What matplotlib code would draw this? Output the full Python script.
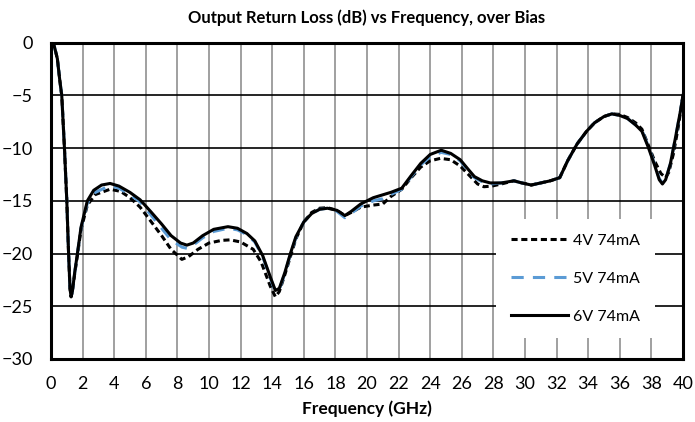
import matplotlib
matplotlib.use("Agg")
import matplotlib.pyplot as plt

plt.rcParams['font.family'] = ['Lato', 'DejaVu Sans']

# 6V 74mA (solid black)
freq_6v = [0.0, 0.2, 0.4, 0.55, 0.68, 0.85, 1.0, 1.1, 1.2, 1.27, 1.35, 1.5, 1.67, 1.9,
           2.3, 2.7, 3.2, 3.74, 4.3, 5.0, 5.64, 6.3, 7.0, 7.6, 8.2, 8.6, 9.0, 9.6,
           10.3, 11.2, 11.8, 12.4, 12.9, 13.4, 13.9, 14.2, 14.45, 14.8, 15.15, 15.5,
           16.0, 16.5, 17.0, 17.5, 18.1, 18.6, 19.0, 19.6, 20.4, 21.5, 22.2, 22.8,
           23.4, 24.0, 24.7, 25.3, 25.9, 26.4, 26.8, 27.3, 27.8, 28.5, 29.3, 29.8,
           30.4, 31.0, 31.6, 32.2, 32.7, 33.3, 33.9, 34.4, 35.0, 35.5, 36.0, 36.5,
           37.0, 37.4, 37.8, 38.2, 38.5, 38.7, 38.9, 39.2, 39.5, 39.85, 40.0]
rl_6v = [0.0, -0.3, -1.5, -3.5, -5.0, -10.0, -15.0, -19.5, -23.3, -24.1, -23.6, -21.8, -20.0, -17.5,
         -15.0, -14.0, -13.5, -13.35, -13.6, -14.2, -14.9, -16.0, -17.2, -18.3, -19.0, -19.2, -19.0, -18.3,
         -17.7, -17.45, -17.6, -18.1, -18.8, -20.2, -22.3, -23.5, -23.3, -21.8, -20.0, -18.4,
         -17.0, -16.2, -15.8, -15.7, -15.9, -16.4, -16.0, -15.3, -14.7, -14.2, -13.8, -12.6,
         -11.45, -10.6, -10.2, -10.5, -11.1, -12.0, -12.7, -13.1, -13.3, -13.3, -13.1, -13.3,
         -13.5, -13.3, -13.1, -12.8, -11.2, -9.6, -8.4, -7.6, -7.0, -6.75, -6.9, -7.2,
         -7.8, -8.4, -9.9, -11.6, -13.0, -13.4, -13.0, -11.5, -9.2, -6.4, -5.0]

# 5V 74mA (blue dashed)
freq_5v = [0.0, 0.2, 0.4, 0.55, 0.68, 0.85, 1.0, 1.1, 1.2, 1.27, 1.35, 1.5, 1.67, 1.9,
           2.3, 2.8, 3.74, 4.3, 5.0, 5.64, 6.3, 7.0, 7.6, 8.3, 8.6, 9.0, 9.6,
           10.3, 11.2, 11.8, 12.4, 12.9, 13.4, 13.9, 14.2, 14.45, 14.8, 15.15, 15.5,
           16.0, 16.5, 17.0, 17.5, 18.1, 18.6, 19.0, 19.6, 20.4, 21.0, 21.5, 22.2, 22.8,
           23.4, 24.0, 24.7, 25.3, 25.9, 26.4, 26.8, 27.3, 27.8, 28.5, 29.3, 29.8,
           30.4, 31.0, 31.6, 32.2, 32.7, 33.3, 33.9, 34.4, 35.0, 35.5, 36.0, 36.5,
           37.0, 37.4, 37.8, 38.2, 38.5, 38.7, 38.9, 39.2, 39.5, 39.85, 40.0]
rl_5v = [0.0, -0.3, -1.5, -3.5, -5.0, -10.0, -15.0, -19.5, -23.3, -24.1, -23.6, -21.8, -20.0, -17.6,
         -15.2, -14.2, -13.55, -13.8, -14.4, -15.1, -16.3, -17.6, -18.7, -19.4, -19.5, -19.2, -18.5,
         -17.9, -17.6, -17.75, -18.2, -18.9, -20.3, -22.4, -23.6, -23.4, -21.9, -20.1, -18.5,
         -17.0, -16.2, -15.8, -15.7, -16.0, -16.6, -16.2, -15.5, -15.0, -14.8, -14.4, -13.9, -12.7,
         -11.6, -10.8, -10.4, -10.6, -11.2, -12.1, -12.8, -13.2, -13.4, -13.3, -13.1, -13.3,
         -13.5, -13.3, -13.1, -12.8, -11.2, -9.6, -8.4, -7.6, -7.0, -6.75, -6.9, -7.2,
         -7.8, -8.3, -9.8, -11.5, -12.9, -13.3, -13.0, -11.5, -9.2, -6.4, -5.0]

# 4V 74mA (black dashed)
freq_4v = [0.0, 0.2, 0.4, 0.55, 0.68, 0.85, 1.0, 1.1, 1.2, 1.27, 1.35, 1.5, 1.67, 1.9,
           2.3, 2.8, 3.74, 4.4, 5.0, 5.64, 6.3, 7.0, 7.6, 8.28, 8.7, 9.3, 10.0,
           10.8, 11.34, 12.0, 12.8, 13.3, 13.88, 14.2, 14.45, 14.8, 15.15, 15.5,
           16.0, 16.5, 17.0, 17.5, 18.1, 18.6, 19.0, 19.6, 20.4, 21.0, 21.5, 22.2, 22.8,
           23.4, 24.0, 24.65, 25.3, 25.9, 26.55, 27.0, 27.4, 27.9, 28.5, 29.3, 29.8,
           30.4, 31.0, 31.6, 32.2, 32.7, 33.3, 33.9, 34.4, 35.0, 35.5, 36.0, 36.5,
           37.0, 37.4, 37.75, 38.2, 38.6, 38.9, 39.1, 39.4, 39.7, 40.0]
rl_4v = [0.0, -0.3, -1.5, -3.5, -5.0, -10.0, -15.0, -19.5, -23.3, -24.1, -23.6, -21.9, -20.2, -17.7,
         -15.4, -14.4, -13.9, -14.1, -14.7, -15.6, -16.9, -18.3, -19.6, -20.55, -20.3, -19.6, -19.0,
         -18.75, -18.7, -18.9, -19.6, -20.8, -23.1, -24.1, -23.6, -22.0, -20.3, -18.6,
         -17.0, -16.1, -15.7, -15.65, -15.9, -16.4, -16.1, -15.6, -15.4, -15.3, -14.6, -13.9, -12.8,
         -11.8, -11.2, -10.97, -11.1, -11.7, -12.7, -13.4, -13.66, -13.6, -13.4, -13.1, -13.3,
         -13.5, -13.3, -13.1, -12.8, -11.2, -9.6, -8.4, -7.6, -7.0, -6.75, -6.8, -7.1,
         -7.6, -8.2, -9.5, -11.2, -12.4, -12.8, -12.3, -10.5, -8.0, -5.0]

fig = plt.figure(figsize=(6.95, 4.22), dpi=100)
ax = fig.add_axes([0.0734, 0.1493, 0.9093, 0.7495])

ax.plot(freq_4v, rl_4v, color='black', lw=2.2, linestyle=(0, (2, 1.2)), label='4V 74mA')
ax.plot(freq_5v, rl_5v, color='#5B9BD5', lw=2.2, linestyle=(0, (4, 3)), label='5V 74mA')
ax.plot(freq_6v, rl_6v, color='black', lw=2.2, label='6V 74mA')

ax.set_xlim(0, 40)
ax.set_ylim(-30, 0)
ax.set_xticks(range(0, 41, 2))
ax.set_yticks(range(-30, 1, 5))
ax.tick_params(length=0, labelsize=13)
ax.tick_params(axis='y', pad=13)
ax.tick_params(axis='x', pad=12)
ax.grid(axis='x', color='#999999', lw=1.3)
ax.grid(axis='y', color='black', lw=1.2)
ax.set_axisbelow(True)
for s in ax.spines.values():
    s.set_linewidth(2.2)

ax.set_title('Output Return Loss (dB) vs Frequency, over Bias', fontsize=12,
             fontweight='bold', pad=14)
ax.set_xlabel('Frequency (GHz)', fontsize=12.5, fontweight='bold', labelpad=6)

leg = ax.legend(loc='lower right', bbox_to_anchor=(0.955, 0.065), fontsize=11.5,
                frameon=True, fancybox=False, edgecolor='none', facecolor='white',
                framealpha=1, handlelength=3.6, labelspacing=1.5, handletextpad=0.3,
                borderpad=0.9, borderaxespad=0)

fig.savefig('out.png', dpi=100)
